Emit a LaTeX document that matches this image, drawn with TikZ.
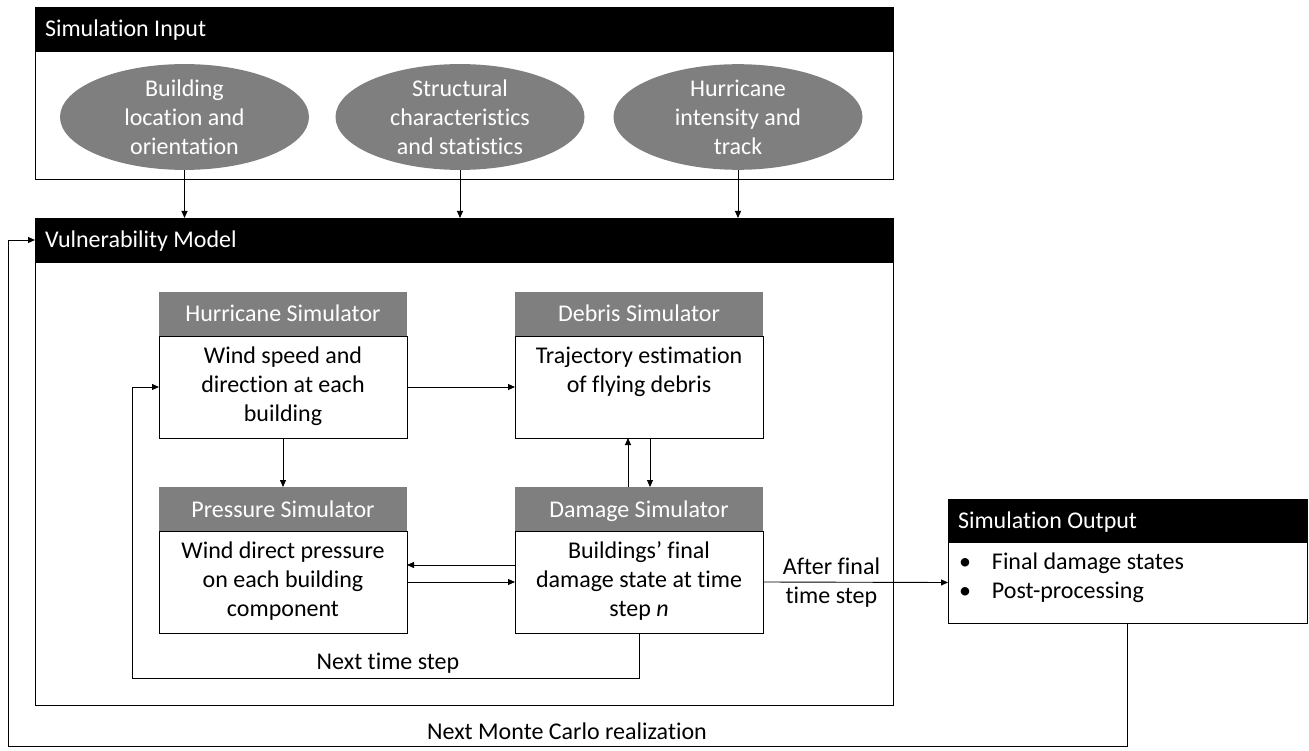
\documentclass[tikz,border=0pt]{standalone}
\usepackage{fontspec}
\setmainfont[Ligatures=NoCommon]{Carlito}
\usetikzlibrary{arrows.meta,shapes.geometric}
\definecolor{hgray}{HTML}{7F7F7F}
\begin{document}
\begin{tikzpicture}[x=1pt,y=-1pt,
  every node/.style={inner sep=0pt, outer sep=0pt},
  frame/.style={draw=black, line width=0.8pt, fill=white, anchor=north west, rectangle},
  blackhdr/.style={draw=black, line width=0.8pt, fill=black, anchor=north west, rectangle},
  grayhdr/.style={fill=hgray, anchor=north west, rectangle, minimum width=248pt, minimum height=44pt, text=white, text height=20pt, text depth=4pt, font=\fontsize{24}{29}\selectfont},
  innerbody/.style={frame, minimum width=248pt, minimum height=102pt},
  hdrtext/.style={text=white, anchor=west, text height=20pt, text depth=4pt, font=\fontsize{24}{29}\selectfont},
  bodytext/.style={align=center, font=\fontsize{24}{29}\selectfont},
  inell/.style={ellipse, fill=hgray, minimum width=249pt, minimum height=97pt, text=white, align=center, font=\fontsize{24}{29}\selectfont},
  lbl/.style={font=\fontsize{24}{29}\selectfont, align=center},
  arr/.style={line width=0.9pt, -{Triangle[length=7pt,width=6pt]}},
  ln/.style={line width=0.9pt}
]
\useasboundingbox (0,0) rectangle (1309,751);

% Simulation Input
\node[frame, minimum width=858pt, minimum height=128pt] (inbody) at (35,51) {};
\node[blackhdr, minimum width=858pt, minimum height=44pt] (inhdr) at (35,7) {};
\node[hdrtext] (intitle) at ([xshift=10pt]inhdr.west) {Simulation Input};
\node[inell] (e1) at (184.5,117) {Building\\location and\\orientation};
\node[inell] (e2) at (460,117) {Structural\\characteristics\\and statistics};
\node[inell] (e3) at (738,117) {Hurricane\\intensity and\\track};

% Vulnerability Model
\node[frame, minimum width=858pt, minimum height=443pt] (vbody) at (35,262) {};
\node[blackhdr, minimum width=858pt, minimum height=44pt] (vhdr) at (35,218) {};
\node[hdrtext] (vtitle) at ([xshift=10pt]vhdr.west) {Vulnerability Model};

% inner simulators
\node[grayhdr] (hhdr) at (159,292) {Hurricane Simulator};
\node[innerbody] (hbody) at (159,336) {};
\node[bodytext] (htext) at (283,386) {Wind speed and\\direction at each\\building};

\node[grayhdr] (dhdr) at (515,292) {Debris Simulator};
\node[innerbody] (dbody) at (515,336) {};
\node[bodytext] (dtext) at (639,372) {Trajectory estimation\\of flying debris};

\node[grayhdr] (phdr) at (159,487) {Pressure Simulator};
\node[innerbody] (pbody) at (159,531) {};
\node[bodytext] (ptext) at (283,581) {Wind direct pressure\\on each building\\component};

\node[grayhdr] (mhdr) at (515,487) {Damage Simulator};
\node[innerbody] (mbody) at (515,531) {};
\node[bodytext] (mtext) at (639,581) {Buildings’ final\\damage state at time\\step \textit{n}};

% Simulation Output
\node[frame, minimum width=359pt, minimum height=81pt] (obody) at (948,542) {};
\node[blackhdr, minimum width=359pt, minimum height=43pt] (ohdr) at (948,499) {};
\node[hdrtext] (otitle) at ([xshift=10pt]ohdr.west) {Simulation Output};
\node[anchor=west, align=left, font=\fontsize{24}{29}\selectfont] (otext) at (959,578)
  {\makebox[33pt][l]{•}Final damage states\\\makebox[33pt][l]{•}Post-processing};

% input arrows
\draw[arr] (e1.south) -- (e1.south |- vhdr.north);
\draw[arr] (e2.south) -- (e2.south |- vhdr.north);
\draw[arr] (e3.south) -- (e3.south |- vhdr.north);

% inner arrows
\draw[arr] (hbody.east) -- (dbody.west);
\draw[arr] (hbody.south) -- (phdr.north);
\draw[arr] ([xshift=-11pt]mhdr.north) -- ([xshift=-11pt]dbody.south);
\draw[arr] ([xshift=11pt]dbody.south) -- ([xshift=11pt]mhdr.north);
\draw[arr] ([yshift=17pt]mbody.west) -- ([yshift=17pt]pbody.east);
\draw[arr] (pbody.east) -- (mbody.west);
\draw[arr] (mbody.east) -- node[lbl, pos=0.37] (aft) {After final\\time step} (obody.west);

% next time step loop
\coordinate (nt) at (132,678);
\draw[arr] (mbody.south) |- (nt) |- (hbody.west);
\node[lbl] (ntl) at (388,663) {Next time step};

% Monte Carlo loop
\coordinate (mc) at (8,746);
\draw[arr] (obody.south) |- (mc) |- (vhdr.west);
\node[lbl] (mcl) at (567,731) {Next Monte Carlo realization};
\end{tikzpicture}
\end{document}
